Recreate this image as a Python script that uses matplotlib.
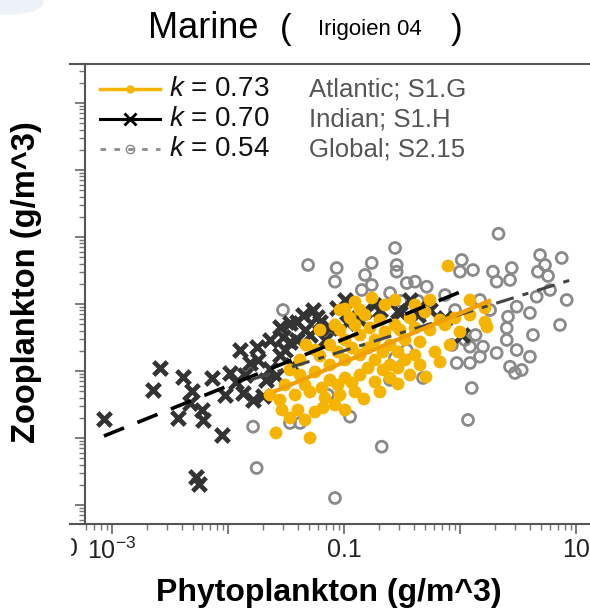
import numpy as np
import matplotlib.pyplot as plt
from matplotlib.lines import Line2D
from matplotlib.patches import Rectangle, Ellipse
from matplotlib.ticker import FixedLocator, LogLocator, NullFormatter

plt.rcParams['font.family'] = ['Liberation Sans', 'DejaVu Sans']
plt.rcParams['mathtext.fontset'] = 'custom'
plt.rcParams['mathtext.rm'] = 'Liberation Sans'
plt.rcParams['mathtext.it'] = 'Liberation Sans:italic'

# log10 biomass, g/m^3 (phytoplankton x, zooplankton y)
global_logx = [0.332, -0.560, -1.310, -1.063, -1.078, -0.761, -0.819, -0.546, -0.546,
               -0.761, -0.847, -0.603, -0.459, -0.388, -0.287, -1.526, 0.015, 0.112,
               0.000, 0.284, 0.446, 0.316, 0.431, 0.690, 0.877, 0.733, 0.672, 0.759,
               0.776, 0.920, 0.661, 0.489, 0.603, 0.414, 0.862, 0.629, 0.403, 0.403,
               0.489, 0.316, 0.198, 0.086, -0.028, 0.086, 0.172, 0.431, 0.532, 0.603,
               0.101, 0.069, -0.948, -0.675, -1.078, -1.379, -1.466, -0.319, -0.603,
               -1.784, -1.753, -0.459, -0.560, -0.509, -0.362, -0.069, 0.043, 0.134,
               0.474, -1.138, -0.129, 0.172, 0.259, -0.043]
global_logy = [0.048, -0.164, -0.418, -0.463, -0.667, -0.388, -0.567, -0.418, -0.518,
               -0.716, -0.791, -0.836, -0.687, -0.667, -0.742, -1.090, -0.343, -0.493,
               -0.518, -0.518, -0.463, -0.667, -0.642, -0.269, -0.313, -0.418, -0.518,
               -0.582, -0.791, -0.940, -0.891, -1.040, -1.134, -1.190, -1.313, -1.463,
               -1.358, -1.537, -1.687, -1.731, -1.637, -1.637, -1.881, -1.881, -1.787,
               -1.936, -1.985, -1.787, -2.254, -2.731, -2.682, -3.130, -3.896, -2.776,
               -2.776, -2.104, -2.134, -2.831, -3.448, -1.687, -1.806, -0.955, -0.955,
               -1.612, -1.537, -1.463, -2.030, -2.358, -0.866, -0.940, -1.090, -1.090]

indian_logx = [-3.065, -2.586, -2.647, -2.388, -2.312, -2.431, -2.216, -2.328, -2.054,
               -2.276, -2.250, -1.983, -1.897, -1.810, -1.753, -1.638, -1.552, -1.526,
               -1.871, -1.784, -1.701, -1.586, -1.555, -1.642, -1.409, -1.468, -1.353,
               -1.234, -1.060, -0.944, -1.293, -1.121, -0.828, -0.741, -0.534, -0.362,
               0.017, -2.224, -1.931, -1.267, -1.466, -1.408, -0.977, -0.517, -0.345,
               -1.853, -1.741, -1.672, -1.509, -1.448, -1.336, -1.207, -1.164, -0.991,
               -0.862, -0.690, -0.431, -0.259, -0.129, -2.134, -2.022]
indian_logy = [-2.716, -1.955, -2.284, -2.085, -2.299, -2.701, -2.731, -2.478, -2.955,
               -3.582, -3.687, -2.030, -1.687, -1.881, -1.637, -1.537, -1.339, -1.488,
               -2.328, -2.433, -2.373, -2.070, -1.761, -1.970, -1.263, -1.567, -1.164,
               -1.188, -1.060, -1.164, -1.463, -1.358, -1.112, -1.010, -1.112, -1.164,
               -1.463, -2.575, -2.164, -1.090, -1.284, -1.537, -1.284, -1.134, -1.040,
               -2.060, -1.836, -2.134, -1.687, -1.910, -1.388, -1.269, -1.537, -0.940,
               -1.239, -1.090, -0.940, -1.090, -1.209, -2.104, -2.358]

atlantic_logx = [-0.905, -0.759, -0.647, -0.948, -0.819, -0.690, -0.560, -0.431, -0.302,
                 -0.172, -0.043, 0.086, 0.216, 0.233, -0.103, -1.379, -1.250, -1.121,
                 -0.991, -0.862, -0.733, -0.603, -0.474, -0.345, -0.216, -0.086, -1.121,
                 -0.991, -0.862, -0.733, -0.603, -0.474, -1.379, -1.250, -1.121, -0.991,
                 -0.862, -0.733, -0.603, -0.431, -0.293, -1.638, -1.509, -1.552, -1.422,
                 -1.293, -1.164, -1.034, -0.905, -1.397, -1.250, -1.181, -0.828, -0.534,
                 -1.586, -1.293, -1.466, -1.078, -1.207, -1.078, -0.991, -0.259, 0.000,
                 -1.034, -0.862, -0.560, -0.388, -0.259, -1.034, -0.905, -0.776, -0.647,
                 -0.517, -0.388, -0.129, -1.328, -1.207, -1.052, -0.931, -0.793, -0.664,
                 -0.534, -0.388, -1.466, -1.336, -1.190, -1.052, -0.931, -0.793, -0.664,
                 -0.534, -0.345, -0.172, -1.534, -1.336, -0.991, -0.690, 0.086, 0.216]
atlantic_logy = [-0.970, -0.910, -1.015, -1.209, -1.164, -1.239, -1.313, -1.209, -1.119,
                 -1.239, -1.209, -1.164, -1.269, -1.343, -0.433, -1.836, -1.687, -1.612,
                 -1.537, -1.463, -1.537, -1.612, -1.537, -1.567, -1.716, -1.612, -1.910,
                 -1.836, -1.761, -1.836, -1.910, -1.836, -2.060, -2.015, -2.134, -2.104,
                 -2.060, -2.164, -2.104, -2.060, -2.090, -2.358, -2.209, -2.433, -2.358,
                 -2.313, -2.403, -2.358, -2.313, -2.582, -2.612, -2.552, -2.418, -2.194,
                 -2.925, -3.000, -2.701, -2.507, -1.388, -1.313, -1.075, -1.388, -1.418,
                 -1.090, -1.090, -0.940, -1.015, -0.940, -1.388, -1.313, -1.358, -1.418,
                 -1.388, -1.358, -1.313, -1.612, -1.776, -1.716, -1.657, -1.657, -1.716,
                 -1.716, -1.761, -1.985, -2.209, -2.254, -2.209, -2.179, -1.955, -1.985,
                 -1.955, -1.910, -1.866, -2.582, -2.731, -2.582, -2.313, -0.940, -1.060]

# power-law fits: log10(zoo) = intercept + k * log10(phyto)
fit_k = [0.73, 0.70, 0.54]
fit_intercept = [-1.138, -0.822, -1.157]
fit_xrange = [(-1.59, 0.25), (-3.07, 0.02), (-1.80, 0.95)]
fit_names = ['Atlantic; S1.G', 'Indian; S1.H', 'Global; S2.15']

ORANGE = '#f5b400'
DARK = '#333333'
GREY = '#8a8a8a'


def fit_line(ax, k, b, xr, **kw):
    """Draw a log-log power law over the given log10 x range."""
    lx = np.linspace(xr[0], xr[1], 50)
    ax.plot(10 ** lx, 10 ** (b + k * lx), **kw)


fig = plt.figure(figsize=(5.9, 6.11), dpi=100)
ax = fig.add_axes([85 / 590, 87 / 611, 515 / 590, 460 / 611])
ax.set_xscale('log')
ax.set_yscale('log')
ax.set_xlim(10 ** -3.233, 10 ** 1.207)
ax.set_ylim(10 ** -4.284, 10 ** 2.582)

ax.scatter(10 ** np.array(global_logx), 10 ** np.array(global_logy), s=62,
           facecolors='none', edgecolors=GREY, linewidths=2, zorder=2)
ax.scatter(10 ** np.array(indian_logx), 10 ** np.array(indian_logy), s=95,
           marker='x', color=DARK, linewidths=3.4, zorder=3)
ax.scatter(10 ** np.array(atlantic_logx), 10 ** np.array(atlantic_logy), s=85,
           color=ORANGE, edgecolors='none', zorder=4)

fit_line(ax, fit_k[1], fit_intercept[1], fit_xrange[1], color='black', lw=2.6,
         ls=(0, (6, 4)), zorder=5)
fit_line(ax, fit_k[2], fit_intercept[2], fit_xrange[2], color='#444444', lw=2.2,
         ls=(0, (6, 3, 2, 3)), zorder=5)
fit_line(ax, fit_k[0], fit_intercept[0], fit_xrange[0], color='#f0a000', lw=3,
         zorder=6)

# legend drawn by hand: handle, slope, source
handles = [
    dict(color=ORANGE, lw=2.5, ls='-', marker='o', ms=5, mfc=ORANGE, mec=ORANGE),
    dict(color='black', lw=2.2, ls='-', marker='x', ms=8, mew=2),
    dict(color=GREY, lw=2, ls=(0, (2, 3)), marker='o', ms=6, mfc='none', mec=GREY),
]
rows_y = [0.945, 0.880, 0.815]
for h, k, name, y in zip(handles, fit_k, fit_names, rows_y):
    ax.add_line(Line2D([0.03, 0.145], [y, y], transform=ax.transAxes,
                       **{**h, 'marker': 'None'}))
    ax.plot([0.0875], [y], transform=ax.transAxes, ls='none',
            **{kk: v for kk, v in h.items() if kk not in ('lw', 'ls')})
    ax.text(0.163, y, '$k$ = %.2f' % k, transform=ax.transAxes, fontsize=20,
            va='center', color='#111111')
    ax.text(0.435, y, name, transform=ax.transAxes, fontsize=18.5,
            va='center', color='#555555')

ax.spines['right'].set_visible(False)
for side in ('left', 'top', 'bottom'):
    ax.spines[side].set_color('#555555')
    ax.spines[side].set_linewidth(1.5)

ax.xaxis.set_major_locator(FixedLocator([10.0 ** e for e in range(-4, 3)]))
ax.xaxis.set_minor_locator(LogLocator(base=10, subs=np.arange(2, 10)))
ax.xaxis.set_minor_formatter(NullFormatter())
xlabels = {-3: r'$10^{-3}$', -1: '0.1', 1: '10'}
ax.set_xticklabels([xlabels.get(e, '') for e in range(-4, 3)])
ax.yaxis.set_major_locator(FixedLocator([10.0 ** e for e in range(-5, 4)]))
ax.yaxis.set_minor_locator(LogLocator(base=10, subs=np.arange(2, 10)))
ax.yaxis.set_major_formatter(NullFormatter())
ax.yaxis.set_minor_formatter(NullFormatter())
ax.tick_params(which='major', direction='out', length=7, width=1.2, color='#666666',
               labelsize=18, labelcolor='#222222', pad=3, top=False, right=False)
ax.tick_params(which='minor', direction='out', length=4, width=1, color='#777777',
               top=False, right=False)

# frame lines running past the left axis
fig.add_artist(Line2D([70 / 590, 85 / 590], [1 - 64 / 611] * 2, color='#555555', lw=1.5))
fig.add_artist(Line2D([70 / 590, 85 / 590], [87 / 611] * 2, color='#555555', lw=1.5))

# clipped tick label from the neighbouring panel
fig.text(78 / 590, 1 - 549 / 611, '10', fontsize=18, ha='right', va='center',
         color='#222222')
fig.add_artist(Rectangle((0, 1 - 570 / 611), 70 / 590, 42 / 611, color='white',
                         transform=fig.transFigure, zorder=10))
fig.add_artist(Ellipse((8 / 590, 1 - 2 / 611), 70 / 590, 24 / 611, color='#edf2f9',
                       transform=fig.transFigure, zorder=0))

fig.text(203 / 590, 1 - 28 / 611, 'Marine', fontsize=26, ha='center', va='center')
fig.text(286 / 590, 1 - 29 / 611, '(', fontsize=25, ha='center', va='center')
fig.text(370 / 590, 1 - 29 / 611, 'Irigoien 04', fontsize=16, ha='center', va='center')
fig.text(457 / 590, 1 - 29 / 611, ')', fontsize=25, ha='center', va='center')

fig.text(329 / 590, 1 - 593 / 611, 'Phytoplankton (g/m^3)', fontsize=23,
         fontweight='bold', ha='center', va='center')
fig.text(27 / 590, 1 - 282 / 611, 'Zooplankton (g/m^3)', fontsize=23.5,
         fontweight='bold', ha='center', va='center', rotation=90)

fig.savefig('out.png', dpi=100)
